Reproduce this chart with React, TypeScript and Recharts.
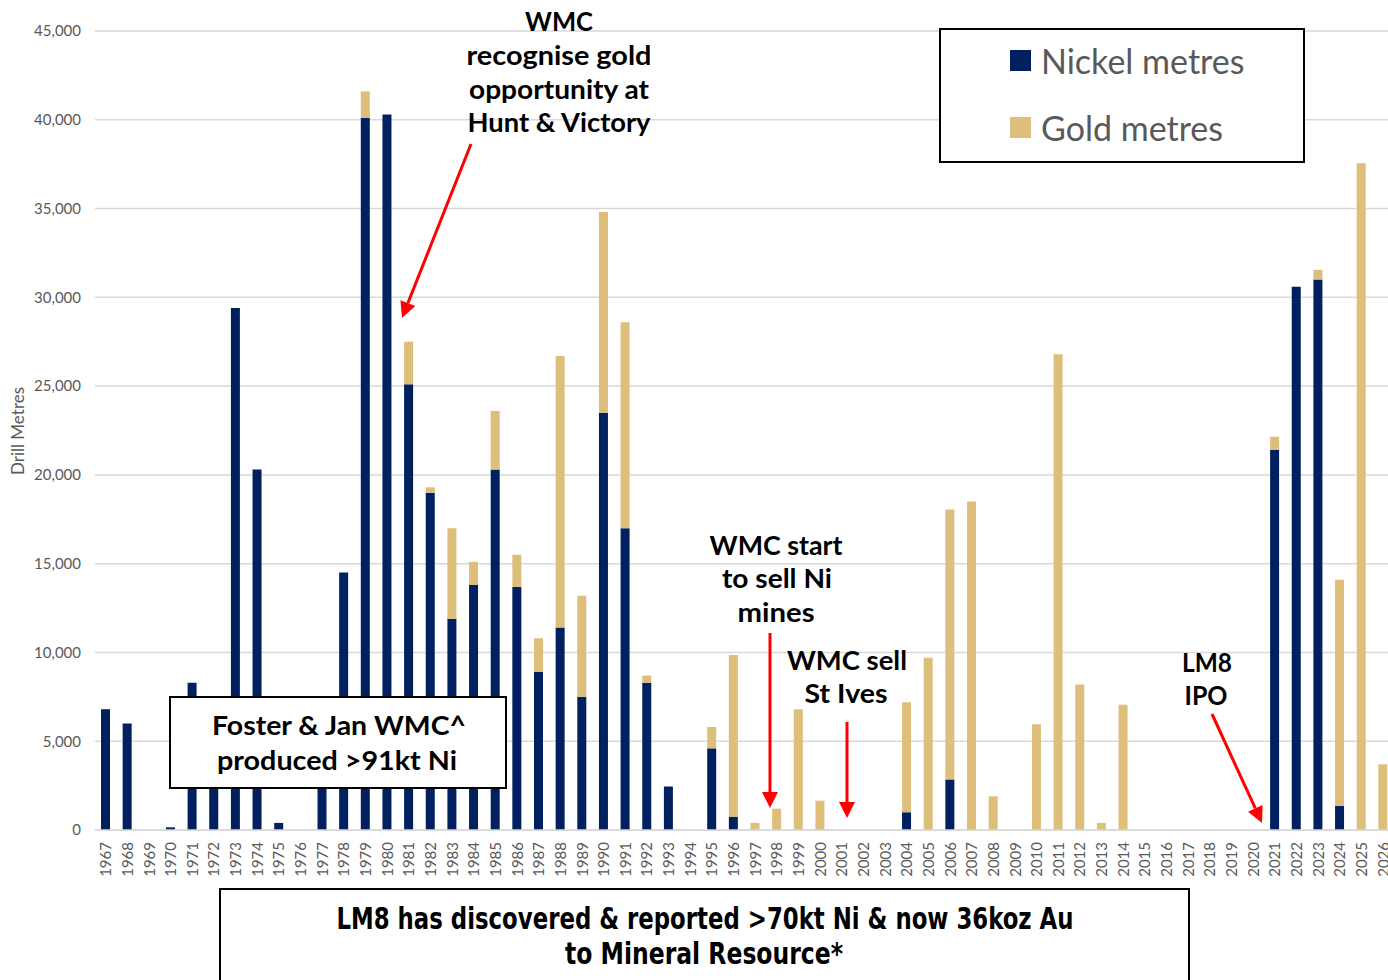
import React from "react";
import { BarChart, Bar, XAxis, YAxis, CartesianGrid, Legend } from "recharts";

// drill metres per year
const years = [
  "1967", "1968", "1969", "1970", "1971", "1972", "1973", "1974", "1975", "1976",
  "1977", "1978", "1979", "1980", "1981", "1982", "1983", "1984", "1985", "1986",
  "1987", "1988", "1989", "1990", "1991", "1992", "1993", "1994", "1995", "1996",
  "1997", "1998", "1999", "2000", "2001", "2002", "2003", "2004", "2005", "2006",
  "2007", "2008", "2009", "2010", "2011", "2012", "2013", "2014", "2015", "2016",
  "2017", "2018", "2019", "2020", "2021", "2022", "2023", "2024", "2025", "2026",
];

const nickelMetres = [
  6800, 6000, 0, 150, 8300, 6500, 29400, 20300, 400, 0,
  6000, 14500, 40100, 40300, 25100, 19000, 11900, 13800, 20300, 13700,
  8900, 11400, 7500, 23500, 17000, 8300, 2450, 0, 4600, 750,
  0, 0, 0, 0, 0, 0, 0, 1000, 0, 2850,
  0, 0, 0, 0, 0, 0, 0, 0, 0, 0,
  0, 0, 0, 0, 21400, 30600, 31000, 1350, 0, 0,
];

const goldMetres = [
  0, 0, 0, 0, 0, 0, 0, 0, 0, 0,
  0, 0, 1500, 0, 2400, 300, 5100, 1300, 3300, 1800,
  1900, 15300, 5700, 11300, 11600, 400, 0, 0, 1200, 9100,
  400, 1200, 6800, 1650, 0, 0, 0, 6200, 9700, 15200,
  18500, 1900, 0, 5950, 26800, 8200, 400, 7050, 0, 0,
  0, 0, 0, 0, 750, 0, 550, 12750, 37550, 3700,
];

const yTicks = [0, 5000, 10000, 15000, 20000, 25000, 30000, 35000, 40000, 45000];
const legendOrder = ["nickel", "gold"];

const NAVY = "#002060";
const GOLD = "#DDBF7B";
const GREY_TEXT = "#595959";
const ANNOT_FONT = "Lato, 'Open Sans', sans-serif";

const data = years.map((year, i) => ({
  year,
  nickel: nickelMetres[i],
  gold: goldMetres[i],
}));

function YearTick({ x, y, payload }: any) {
  return (
    <text
      x={x}
      y={y}
      dy="0.36em"
      textAnchor="end"
      transform={`rotate(-90 ${x} ${y})`}
      fontSize={15}
      fontFamily="Lato, sans-serif"
      fill={GREY_TEXT}
    >
      {payload.value}
    </text>
  );
}

function LegendBox({ payload }: any) {
  const items = [...(payload ?? [])].sort(
    (a: any, b: any) => legendOrder.indexOf(a.dataKey) - legendOrder.indexOf(b.dataKey)
  );
  return (
    <div
      style={{
        position: "relative",
        width: 366,
        height: 135,
        border: "2px solid #000",
        background: "#fff",
        boxSizing: "border-box",
      }}
    >
      {items.map((item: any, i: number) => (
        <div
          key={item.value}
          style={{
            position: "absolute",
            left: 69,
            top: 10 + i * 67,
            height: 40,
            display: "flex",
            alignItems: "center",
            gap: 10,
            fontFamily: "Lato, sans-serif",
            fontSize: 34,
            color: GREY_TEXT,
            whiteSpace: "nowrap",
          }}
        >
          <span style={{ width: 21, height: 21, background: item.color, display: "inline-block" }} />
          {item.value}
        </div>
      ))}
    </div>
  );
}

// red annotation arrow with a filled triangular head at (x2, y2)
function Arrow({ x1, y1, x2, y2 }: { x1: number; y1: number; x2: number; y2: number }) {
  const len = Math.hypot(x2 - x1, y2 - y1);
  const ux = (x2 - x1) / len;
  const uy = (y2 - y1) / len;
  const head = 16;
  const half = 8;
  const bx = x2 - ux * head;
  const by = y2 - uy * head;
  const pts = `${x2},${y2} ${bx - uy * half},${by + ux * half} ${bx + uy * half},${by - ux * half}`;
  return (
    <g>
      <line x1={x1} y1={y1} x2={bx} y2={by} stroke="#FF0000" strokeWidth={3} />
      <polygon points={pts} fill="#FF0000" />
    </g>
  );
}

function Label({ x, y, text, width }: { x: number; y: number; text: string; width: number }) {
  return (
    <text
      x={x}
      y={y}
      textAnchor="middle"
      fontFamily={ANNOT_FONT}
      fontWeight={700}
      fontSize={27}
      fill="#000"
      textLength={width}
      lengthAdjust="spacingAndGlyphs"
    >
      {text}
    </text>
  );
}

function Annotations() {
  return (
    <svg
      width={1388}
      height={980}
      style={{ position: "absolute", left: 0, top: 0, pointerEvents: "none" }}
    >
      {/* WMC recognise gold */}
      <Label x={559} y={31} text="WMC" width={68} />
      <Label x={559} y={65} text="recognise gold" width={185} />
      <Label x={559} y={99} text="opportunity at" width={180} />
      <Label x={559} y={132} text="Hunt & Victory" width={183} />
      <Arrow x1={471} y1={144} x2={402} y2={318} />

      {/* Foster & Jan box */}
      <rect x={170} y={697} width={336} height={91} fill="#fff" stroke="#000" strokeWidth={2} />
      <Label x={339} y={735} text="Foster & Jan WMC^" width={254} />
      <Label x={337} y={770} text="produced >91kt Ni" width={240} />

      {/* WMC start to sell Ni mines */}
      <Label x={776} y={555} text="WMC start" width={133} />
      <Label x={777} y={588} text="to sell Ni" width={110} />
      <Label x={776} y={622} text="mines" width={77} />
      <Arrow x1={770} y1={633} x2={770} y2={808} />

      {/* WMC sell St Ives */}
      <Label x={847} y={670} text="WMC sell" width={120} />
      <Label x={846} y={703} text="St Ives" width={83} />
      <Arrow x1={847} y1={722} x2={847} y2={818} />

      {/* LM8 IPO */}
      <Label x={1207} y={672} text="LM8" width={50} />
      <Label x={1206} y={705} text="IPO" width={43} />
      <Arrow x1={1212} y1={714} x2={1262} y2={823} />

      {/* bottom summary box */}
      <rect x={220} y={889} width={969} height={110} fill="#fff" stroke="#000" strokeWidth={2} />
      <text
        x={705}
        y={929}
        textAnchor="middle"
        fontFamily="'Liberation Sans Narrow', 'DejaVu Sans Condensed', sans-serif"
        fontWeight={700}
        fontSize={31}
        textLength={737}
        lengthAdjust="spacingAndGlyphs"
      >
        LM8 has discovered &amp; reported &gt;70kt Ni &amp; now 36koz Au
      </text>
      <text
        x={704}
        y={964}
        textAnchor="middle"
        fontFamily="'Liberation Sans Narrow', 'DejaVu Sans Condensed', sans-serif"
        fontWeight={700}
        fontSize={31}
        textLength={278}
        lengthAdjust="spacingAndGlyphs"
      >
        to Mineral Resource*
      </text>
    </svg>
  );
}

export default function App() {
  return (
    <div
      style={{
        position: "fixed",
        left: 0,
        top: 0,
        width: 1388,
        height: 980,
        overflow: "hidden",
        background: "#fff",
      }}
    >
      <div style={{ position: "relative", width: 1400, height: 980 }}>
        <BarChart
          width={1400}
          height={980}
          data={data}
          margin={{ top: 31, right: 6, bottom: 0, left: 1 }}
        >
          <CartesianGrid vertical={false} stroke="#D9D9D9" strokeWidth={1.5} />
          <XAxis
            dataKey="year"
            interval={0}
            height={150}
            tickLine={false}
            tickMargin={6}
            axisLine={{ stroke: "#D9D9D9", strokeWidth: 1.5 }}
            tick={<YearTick />}
          />
          <YAxis
            width={94}
            domain={[0, 45000]}
            ticks={yTicks}
            interval={0}
            axisLine={false}
            tickLine={false}
            tickMargin={8}
            tickFormatter={(v: number) => v.toLocaleString("en-US")}
            tick={{ fontSize: 15, fontFamily: "Lato, sans-serif", fill: GREY_TEXT }}
            label={() => (
              <text
                x={17}
                y={431}
                transform="rotate(-90 17 431)"
                textAnchor="middle"
                dominantBaseline="central"
                fontSize={17}
                fontFamily="Lato, sans-serif"
                fill={GREY_TEXT}
              >
                Drill Metres
              </text>
            )}
          />
          <Legend
            layout="vertical"
            align="center"
            verticalAlign="middle"
            content={<LegendBox />}
            wrapperStyle={{ position: "absolute", left: 939, top: 28, width: 366, height: 135 }}
          />
          <Bar dataKey="nickel" name="Nickel metres" stackId="m" fill={NAVY} barSize={9} isAnimationActive={false} />
          <Bar dataKey="gold" name="Gold metres" stackId="m" fill={GOLD} barSize={9} isAnimationActive={false} />
        </BarChart>
        <Annotations />
      </div>
    </div>
  );
}
